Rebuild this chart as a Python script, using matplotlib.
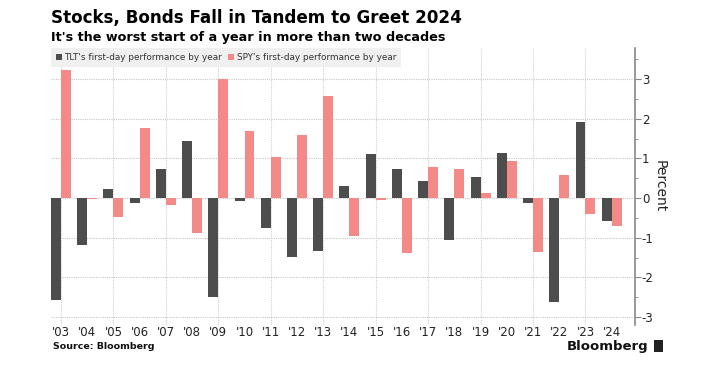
import numpy as np
import matplotlib
matplotlib.use("Agg")
import matplotlib.pyplot as plt
from matplotlib.ticker import MultipleLocator
from matplotlib.patches import Rectangle

plt.rcParams["axes.unicode_minus"] = False

years = list(range(2003, 2025))
year_labels = ["'%02d" % (y % 100) for y in years]
tlt = [-2.57, -1.18, 0.22, -0.12, 0.72, 1.44, -2.50, -0.08, -0.75, -1.49, -1.34,
       0.30, 1.11, 0.72, 0.43, -1.07, 0.54, 1.13, -0.12, -2.61, 1.91, -0.58]
spy = [3.22, -0.03, -0.47, 1.76, -0.17, -0.87, 3.01, 1.70, 1.04, 1.59, 2.56,
       -0.95, -0.05, -1.38, 0.78, 0.73, 0.12, 0.94, -1.35, 0.58, -0.41, -0.71]

dark = "#4d4d4d"
pink = "#f48a87"

fig = plt.figure(figsize=(7.03, 3.70), dpi=100)
ax = fig.add_axes([0.0725, 0.1216, 0.8305, 0.7486])

x = np.array(years)
w = 0.38
ax.bar(x - w / 2, tlt, width=w, color=dark, label="TLT's first-day performance by year", zorder=3)
ax.bar(x + w / 2, spy, width=w, color=pink, label="SPY's first-day performance by year", zorder=3)

ax.set_xlim(2002.62, 2024.88)
ax.set_ylim(-3.2, 3.78)

ax.set_xticks(years)
ax.set_xticklabels(year_labels, fontsize=8.5, color="#222222")
ax.tick_params(axis="x", length=0, pad=1)

ax.yaxis.tick_right()
ax.yaxis.set_label_position("right")
ax.set_yticks([-3, -2, -1, 0, 1, 2, 3])
ax.yaxis.set_minor_locator(MultipleLocator(0.5))
ax.tick_params(axis="y", which="major", length=4, color="#888888", labelsize=8.5,
               labelcolor="#222222", pad=1)
ax.tick_params(axis="y", which="minor", length=2.5, color="#888888")
ax.set_ylabel("Percent", rotation=-90, labelpad=9, fontsize=10, color="#222222")

for s in ["top", "left", "bottom"]:
    ax.spines[s].set_visible(False)
ax.spines["right"].set_color("#888888")
ax.spines["right"].set_linewidth(1.2)

for v in [-3, -2, -1, 0, 1, 2, 3]:
    ax.axhline(v, color="#c8c8c8", lw=0.8, ls=(0, (1, 1)), zorder=1)
for yv in years[::2]:
    ax.axvline(yv, color="#d0d0d0", lw=0.8, ls=(0, (1, 1)), zorder=1)

leg = ax.legend(loc="upper left", bbox_to_anchor=(0.0, 1.0), ncol=2, frameon=True,
                fontsize=6.4, handlelength=0.7, handleheight=0.7, handletextpad=0.25,
                columnspacing=0.7, borderpad=0.55, borderaxespad=0.0, fancybox=False,
                labelcolor="#333333")
leg.get_frame().set_facecolor("#f0f0f0")
leg.get_frame().set_edgecolor("none")
leg.get_frame().set_alpha(1)
leg.set_zorder(5)

fig.text(0.0725, 0.952, "Stocks, Bonds Fall in Tandem to Greet 2024", fontsize=12.1,
         fontweight="bold", ha="left", va="center")
fig.text(0.0725, 0.9, "It's the worst start of a year in more than two decades",
         fontsize=9.2, fontweight="bold", ha="left", va="center")
fig.text(0.075, 0.064, "Source: Bloomberg", fontsize=6.8, fontweight="bold",
         ha="left", va="center", color="#111111")
fig.text(0.922, 0.064, "Bloomberg", fontsize=9.5, fontweight="bold",
         ha="right", va="center", color="#111111")
fig.patches.append(Rectangle((0.931, 0.05), 0.012, 0.03, transform=fig.transFigure,
                             facecolor="#222222", edgecolor="none"))

fig.savefig("out.png", dpi=100)
